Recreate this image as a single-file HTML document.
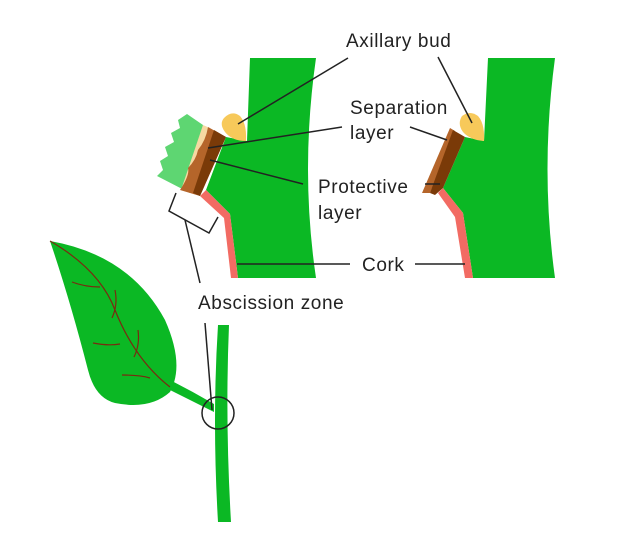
<!DOCTYPE html>
<html><head><meta charset="utf-8"><style>
html,body{margin:0;padding:0;background:#fff;}
svg{display:block}
text{font-family:"Liberation Sans",sans-serif;font-size:19px;fill:#222;letter-spacing:0.6px;}
</style></head><body>
<svg width="634" height="543" viewBox="0 0 634 543" xmlns="http://www.w3.org/2000/svg">
<polygon points="157,176 163,170 160,161 168,156 165,147 174,142 171,133 180,128 178,120 187,114 203,125 190,193" fill="#5ed672"/>
<polygon points="203,125 210,128 198,160 188,192 181,190" fill="#f7d9a2"/>
<path d="M208,127 L226,137 L200,196 L180,190 Q190,175 188,168 Q196,160 198,150 Q206,140 208,127 Z" fill="#b5652a"/>
<polygon points="214,130 226,137 200,196 193,193" fill="#7a3a08"/>
<path d="M226,137 L247,141 L250,58 L316,58 Q300,170 316,278 L238,278 L230,214 L206,190 Z" fill="#0bb824"/>
<polygon points="200,196 206,190 230,214 238,278 231,278 224,218" fill="#f26b63"/>
<path d="M224,118 Q232,110 240,116 Q247,124 246,141 Q232,141 225,132 Q219,124 224,118 Z" fill="#f7c95a"/>
<polyline points="176,193 169,211 209,233 218,217" fill="none" stroke="#222" stroke-width="1.5"/>
<path d="M465,137 L484,141 L488,58 L555,58 Q540,170 555,278 L473,278 L463,213 L443,188 Z" fill="#0bb824"/>
<polygon points="438,193 443,188 463,213 473,278 465,278 455,217" fill="#f26b63"/>
<polygon points="422,193 450,128 455,131 430,193" fill="#b5652a"/>
<polygon points="453,130 465,137 443,188 435,195 430,193" fill="#7a3a08"/>
<path d="M462,116 Q470,110 478,116 Q485,124 484,141 Q470,140 463,132 Q457,124 462,116 Z" fill="#f7c95a"/>
<path d="M218,325 L229,325 Q225,420 231,522 L218,522 Q212,420 218,325 Z" fill="#0bb824"/>
<path d="M166,378 Q190,390 214,404 L214,412 Q190,400 168,389 Z" fill="#0bb824"/>
<path d="M50,241 Q130,255 165,320 Q185,365 170,392 Q150,410 115,403 Q95,398 88,370 Q70,300 50,241 Z" fill="#0bb824"/>
<g stroke="#7a2a10" stroke-width="1.2" fill="none">
<path d="M50,241 Q100,270 115,310 Q135,360 170,387"/>
<path d="M72,282 Q85,287 100,287"/><path d="M115,290 Q118,305 112,318"/>
<path d="M93,343 Q108,346 120,344"/><path d="M138,330 Q140,345 134,357"/>
<path d="M122,375 Q140,375 150,378"/>
</g>
<circle cx="218" cy="413" r="16" fill="none" stroke="#222" stroke-width="1.5"/>
<g stroke="#222" stroke-width="1.5">
<line x1="348" y1="58" x2="238" y2="124"/>
<line x1="438" y1="57" x2="472" y2="123"/>
<line x1="342" y1="127" x2="208" y2="148"/>
<line x1="410" y1="127" x2="447" y2="140"/>
<line x1="303" y1="184" x2="210" y2="160"/>
<line x1="425" y1="184" x2="440" y2="184"/>
<line x1="237" y1="264" x2="350" y2="264"/>
<line x1="415" y1="264" x2="465" y2="264"/>
<line x1="185" y1="220" x2="200" y2="283"/>
<line x1="205" y1="323" x2="212" y2="410"/>
</g>
<text x="346" y="47">Axillary bud</text>
<text x="350" y="114">Separation</text>
<text x="350" y="139">layer</text>
<text x="318" y="193">Protective</text>
<text x="318" y="219">layer</text>
<text x="362" y="271">Cork</text>
<text x="198" y="309">Abscission zone</text>
</svg>
</body></html>
